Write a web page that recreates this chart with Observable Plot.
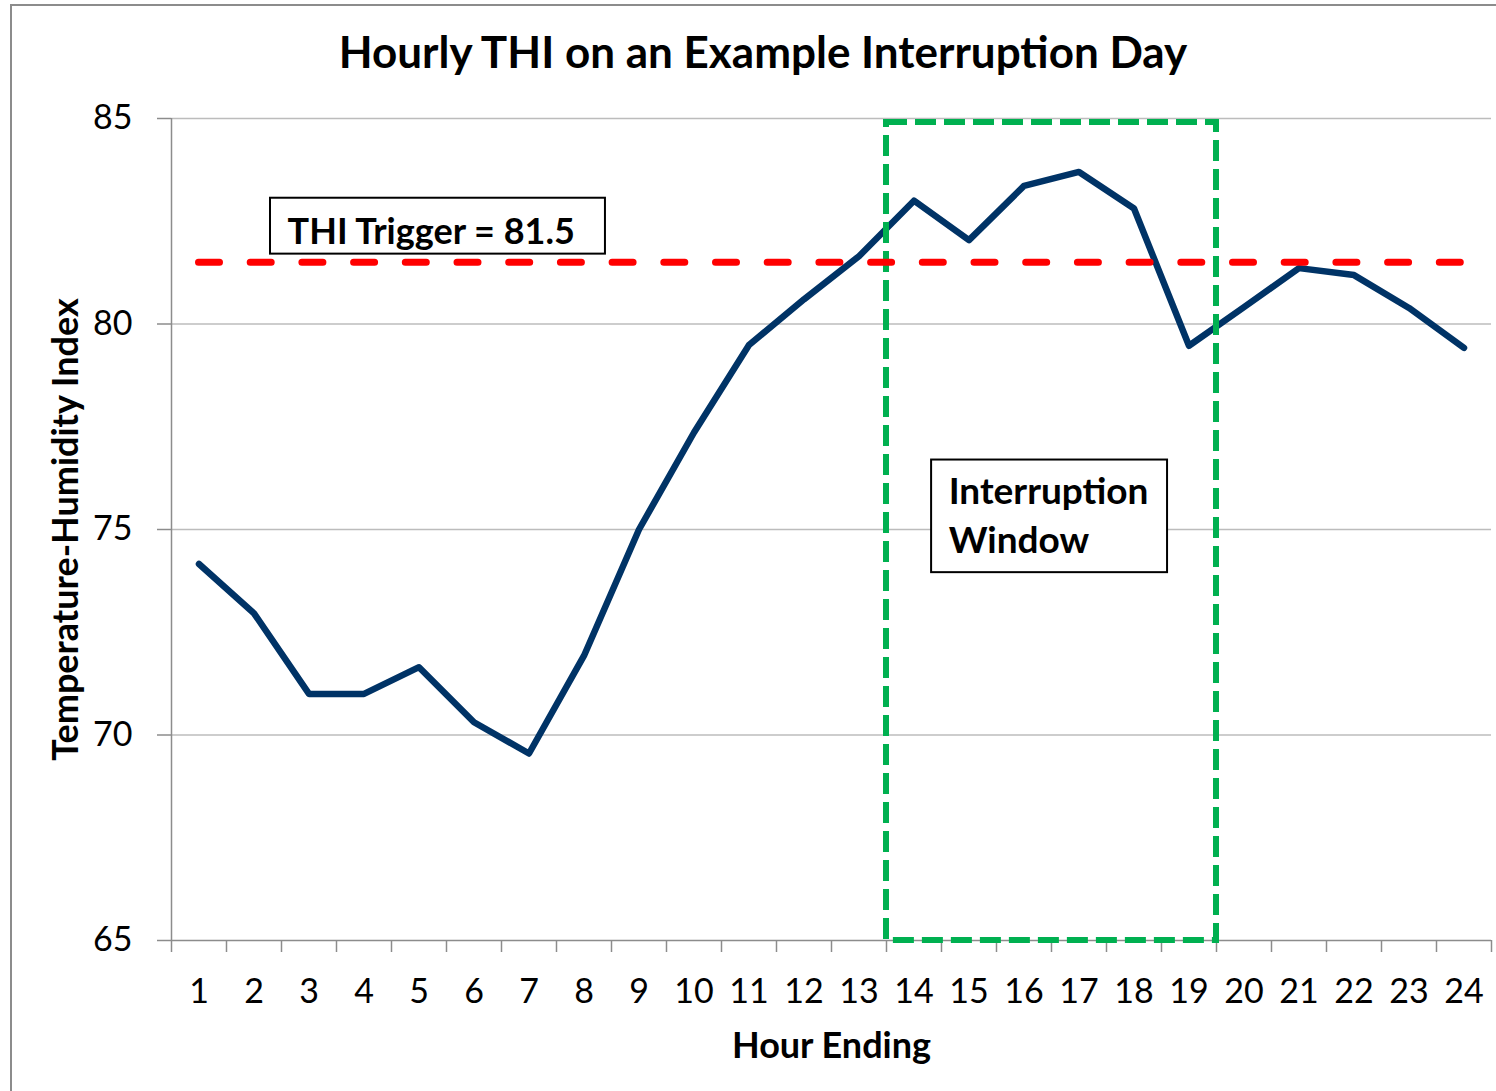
<!DOCTYPE html>
<html>
<head>
<meta charset="utf-8">
<script src="https://cdn.jsdelivr.net/npm/d3@7"></script>
<script src="https://cdn.jsdelivr.net/npm/@observablehq/plot@0.6"></script>
<style>
  html, body { margin: 0; padding: 0; background: #fff; }
  #wrap { position: relative; width: 1496px; height: 1091px; overflow: hidden; background: #fff; font-family: Lato, "Open Sans", sans-serif; }
  #frame { position: absolute; left: 10px; top: 4px; width: 1520px; height: 1120px; border-left: 2px solid #8c8c8c; border-top: 2px solid #8c8c8c; pointer-events: none; }
  #title { position: absolute; left: 0; top: 0; width: 1526px; height: 90px; text-align: center; font-weight: 700; font-size: 44px; line-height: 44px; padding-top: 29px; box-sizing: border-box; color: #000; }
  #chart { position: absolute; left: 0; top: 90px; }
</style>
</head>
<body>
<div id="wrap">
  <div id="title">Hourly THI on an Example Interruption Day</div>
  <div id="chart"></div>
  <div id="frame"></div>
</div>
<script>
// ---- data ----
const hours = [1, 2, 3, 4, 5, 6, 7, 8, 9, 10, 11, 12, 13, 14, 15, 16, 17, 18, 19, 20, 21, 22, 23, 24];
const thi = [74.16, 72.96, 71.0, 71.0, 71.65, 70.31, 69.55, 71.93, 75.0, 77.36, 79.49, 80.6,
             81.65, 83.0, 82.04, 83.36, 83.7, 82.81, 79.47, 80.41, 81.36, 81.19, 80.39, 79.42];
const yTicks = [65, 70, 75, 80, 85];
const triggerTHI = 81.5;
const windowHours = [14, 19];          // interruption window: hour ending 14 through 19
const triggerLabel = "THI Trigger = 81.5";
const windowLabel = ["Interruption", "Window"];
const xTitle = "Hour Ending";
const yTitle = "Temperature-Humidity Index";

const rows = hours.map((h, i) => ({hour: h, thi: thi[i]}));
const xDomain = [hours[0] - 0.5, hours[hours.length - 1] + 0.5];
const boundaries = d3.range(xDomain[0], xDomain[1] + 0.001, 1);

const axisGray = "#8c8c8c";
const gridGray = "#bcbcbc";

const chart = Plot.plot({
  width: 1496,
  height: 1001,
  marginTop: 28,
  marginBottom: 151,
  marginLeft: 171,
  marginRight: 5,
  x: {type: "linear", domain: xDomain},
  y: {domain: [yTicks[0], yTicks[yTicks.length - 1]]},
  style: {fontFamily: "Lato, 'Open Sans', sans-serif", background: "transparent", color: "#000", overflow: "visible"},
  marks: [
    Plot.gridY(yTicks.slice(1), {stroke: gridGray, strokeOpacity: 1, strokeWidth: 1.5}),
    Plot.axisY(yTicks, {tickSize: 14, tickPadding: 25, fontSize: 34, stroke: axisGray, strokeWidth: 1.5, label: null, tickFormat: d => d}),
    Plot.ruleX([xDomain[0]], {stroke: axisGray, strokeWidth: 1.5}),
    Plot.ruleY([yTicks[0]], {stroke: axisGray, strokeWidth: 1.5}),
    Plot.axisX(boundaries, {tickSize: 12, tickFormat: () => "", stroke: axisGray, strokeWidth: 1.5, label: null}),
    Plot.axisX(hours, {tickSize: 0, tickPadding: 38, fontSize: 34, label: null, tickFormat: d => d}),
    // THI line
    Plot.line(rows, {x: "hour", y: "thi", stroke: "#003366", strokeWidth: 6.5, strokeLinejoin: "round", strokeLinecap: "round"}),
    // interruption window
    Plot.rect([windowHours], {
      x1: d => d[0] - 0.5, x2: d => d[1] + 0.5,
      y1: yTicks[0], y2: 84.9,
      fill: "none", stroke: "#00b050", strokeWidth: 6, strokeDasharray: "21,8"
    }),
    // trigger line
    Plot.ruleY([triggerTHI], {x1: () => hours[0], x2: () => hours[hours.length - 1],
      stroke: "#ff0000", strokeWidth: 7, strokeDasharray: "21,30.7", strokeLinecap: "round"}),
    // annotation boxes
    Plot.rect([triggerLabel], {x1: () => 2.3, x2: () => 8.39, y1: () => 81.7, y2: () => 83.06,
      fill: "white", stroke: "#000", strokeWidth: 2}),
    Plot.text([triggerLabel], {x: () => 2.61, y: () => 81.95, text: d => d, textAnchor: "start", lineAnchor: "bottom",
      fontSize: 36, fontWeight: "bold", fill: "#000"}),
    Plot.rect([windowLabel], {x1: () => 14.32, x2: () => 18.61, y1: () => 73.95, y2: () => 76.69,
      fill: "white", stroke: "#000", strokeWidth: 2}),
    Plot.text([windowLabel.join("\n")], {x: () => 14.63, y: () => 74.44, text: d => d, textAnchor: "start", lineAnchor: "bottom",
      lineHeight: 1.3, fontSize: 37, fontWeight: "bold", fill: "#000"}),
    // axis titles
    Plot.text([xTitle], {frameAnchor: "bottom", dy: 117, lineAnchor: "bottom", text: d => d, fontSize: 36, fontWeight: "bold", fill: "#000"}),
    Plot.text([yTitle], {frameAnchor: "left", dx: -105, rotate: -90, textAnchor: "middle", lineAnchor: "middle", text: d => d, fontSize: 36, fontWeight: "bold", fill: "#000"})
  ]
});
document.getElementById("chart").appendChild(chart);
</script>
</body>
</html>
